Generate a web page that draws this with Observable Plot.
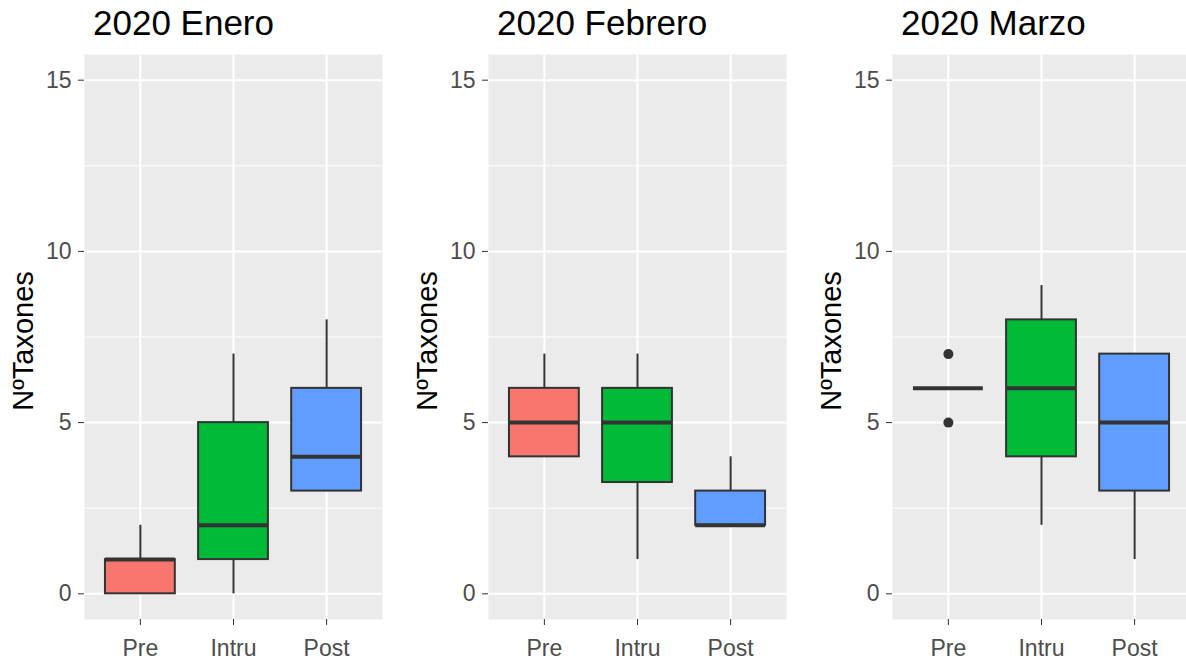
<!DOCTYPE html>
<html>
<head>
<meta charset="utf-8">
<script src="https://cdn.jsdelivr.net/npm/d3@7"></script>
<script src="https://cdn.jsdelivr.net/npm/@observablehq/plot@0.6"></script>
<style>
  html, body { margin: 0; padding: 0; background: #ffffff; }
  body { width: 1186px; height: 663px; overflow: hidden; position: relative; font-family: "Liberation Sans", Arial, sans-serif; }
  .panel { position: absolute; top: 0; width: 404px; height: 663px; }
  .title { position: absolute; top: 5px; font-size: 35px; line-height: 35px; color: #000; white-space: nowrap; }
  .plot { position: absolute; top: 44px; left: 0; }
</style>
</head>
<body>
<script>
// ---- data ----
const months = ["2020 Enero", "2020 Febrero", "2020 Marzo"];
const groups = ["Pre", "Intru", "Post"];
// per month, per group (Pre, Intru, Post)
const whiskerLow  = [[0, 0, 3], [4, 1, 2], [6, 2, 1]];
const q1          = [[0, 1, 3], [4, 3.25, 2], [6, 4, 3]];
const median      = [[1, 2, 4], [5, 5, 2], [6, 6, 5]];
const q3          = [[1, 5, 6], [6, 6, 3], [6, 8, 7]];
const whiskerHigh = [[2, 7, 8], [7, 7, 4], [6, 9, 7]];
// outliers
const outlierMonth = ["2020 Marzo", "2020 Marzo"];
const outlierGroup = ["Pre", "Pre"];
const outlierValue = [7, 5];
// axis ticks
const yTicks = [0, 5, 10, 15];
const yMinor = [2.5, 7.5, 12.5];
const yLabel = "NºTaxones";

// ---- style ----
const palette = ["#F8766D", "#00BA38", "#619CFF"];
const ink = "#333333";

const rows = months.flatMap((m, i) => groups.map((g, j) => ({
  month: m, group: g,
  low: whiskerLow[i][j], q1: q1[i][j], med: median[i][j], q3: q3[i][j], high: whiskerHigh[i][j]
})));
const outliers = outlierValue.map((v, k) => ({month: outlierMonth[k], group: outlierGroup[k], value: v}));

months.forEach((m, i) => {
  const data = rows.filter(d => d.month === m);
  const outs = outliers.filter(d => d.month === m);

  const panel = document.createElement("div");
  panel.className = "panel";
  panel.style.left = (i * 404) + "px";

  const title = document.createElement("div");
  title.className = "title";
  title.style.left = "93px";
  title.textContent = m;
  panel.appendChild(title);

  const chart = Plot.plot({
    width: 404,
    height: 619,
    marginLeft: 84,
    marginRight: 22,
    marginTop: 10,
    marginBottom: 44,
    style: {fontFamily: "\"Liberation Sans\", Arial, sans-serif", background: "transparent", color: ink, maxWidth: "none"},
    x: {type: "band", domain: groups, paddingInner: 0.25, paddingOuter: 0.225, round: false, label: null},
    y: {domain: [-0.75, 15.75], label: null},
    color: {domain: groups, range: palette},
    marks: [
      Plot.frame({fill: "#EBEBEB", stroke: null}),
      Plot.ruleY(yMinor, {y: d => d, stroke: "#ffffff", strokeWidth: 1}),
      Plot.ruleY(yTicks, {y: d => d, stroke: "#ffffff", strokeWidth: 2}),
      Plot.ruleX(groups, {x: d => d, stroke: "#ffffff", strokeWidth: 2}),
      Plot.axisY({ticks: yTicks, tickSize: 6, tickPadding: 7, fontSize: 23, stroke: ink, fill: "#4D4D4D", label: null, tickFormat: d => String(d)}),
      Plot.axisX({tickSize: 6, tickPadding: 14, fontSize: 23, stroke: ink, fill: "#4D4D4D", label: null}),
      Plot.text([yLabel], {text: d => d, frameAnchor: "left", textAnchor: "middle", rotate: -90, dx: -61, dy: 4, fontSize: 29, fill: "#000000"}),
      Plot.ruleX(data, {x: "group", y1: "low", y2: "q1", stroke: ink, strokeWidth: 2}),
      Plot.ruleX(data, {x: "group", y1: "q3", y2: "high", stroke: ink, strokeWidth: 2}),
      Plot.barY(data, {x: "group", y1: "q1", y2: "q3", fill: "group", stroke: ink, strokeWidth: 2}),
      Plot.tickY(data, {x: "group", y: "med", stroke: ink, strokeWidth: 4}),
      Plot.dot(outs, {x: "group", y: "value", r: 5, fill: ink, stroke: null})
    ]
  });
  chart.classList.add("plot");
  panel.appendChild(chart);
  document.body.appendChild(panel);
});
</script>
</body>
</html>
